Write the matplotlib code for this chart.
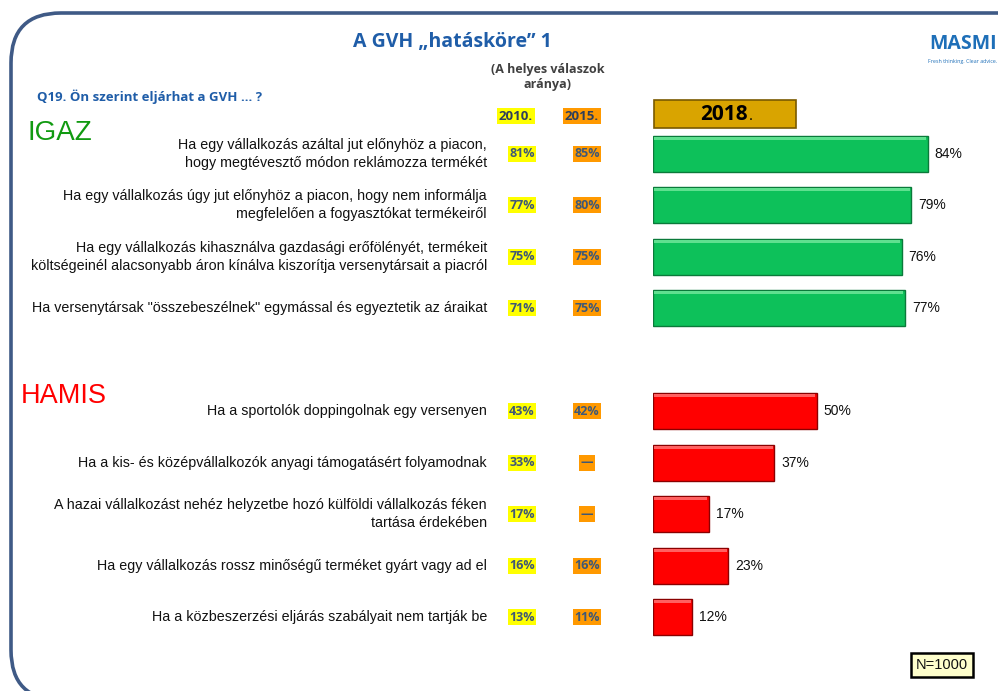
import matplotlib
matplotlib.use("Agg")
import matplotlib.pyplot as plt
from matplotlib.patches import FancyBboxPatch, Rectangle
from matplotlib.transforms import blended_transform_factory

# ---- data ----
labels = [
    "Ha egy vállalkozás azáltal jut előnyhöz a piacon,\nhogy megtévesztő módon reklámozza termékét",
    "Ha egy vállalkozás úgy jut előnyhöz a piacon, hogy nem informálja\nmegfelelően a fogyasztókat termékeiről",
    "Ha egy vállalkozás kihasználva gazdasági erőfölényét, termékeit\nköltségeinél alacsonyabb áron kínálva kiszorítja versenytársait a piacról",
    "Ha versenytársak \"összebeszélnek\" egymással és egyeztetik az áraikat",
    "Ha a sportolók doppingolnak egy versenyen",
    "Ha a kis- és középvállalkozók anyagi támogatásért folyamodnak",
    "A hazai vállalkozást nehéz helyzetbe hozó külföldi vállalkozás féken\ntartása érdekében",
    "Ha egy vállalkozás rossz minőségű terméket gyárt vagy ad el",
    "Ha a közbeszerzési eljárás szabályait nem tartják be",
]
values_2018 = [84, 79, 76, 77, 50, 37, 17, 23, 12]
labels_2010 = ["81%", "77%", "75%", "71%", "43%", "33%", "17%", "16%", "13%"]
labels_2015 = ["85%", "80%", "75%", "75%", "42%", "—", "—", "16%", "11%"]
groups = ["IGAZ"] * 4 + ["HAMIS"] * 5
row_pos = [0, 1, 2, 3, 5, 6, 7, 8, 9]

W, H = 998, 691
fig = plt.figure(figsize=(W / 100, H / 100), dpi=100)

def fx(px):
    return px / W

def fy(py):
    return 1 - py / H

# rounded frame
frame = FancyBboxPatch((fx(11), fy(700)), fx(1100), fy(13) - fy(700),
                       boxstyle="round,pad=0,rounding_size=0.05",
                       transform=fig.transFigure, facecolor="none",
                       edgecolor="#3F5A86", linewidth=2.6, zorder=0,
                       mutation_aspect=W / H)
fig.patches.append(frame)

# bar axes
top_px, bot_px = 128, 643
ax = fig.add_axes([fx(653), fy(bot_px), fx(980) - fx(653), (bot_px - top_px) / H])
ax.set_xlim(0, 100)
ax.set_ylim(9.5, -0.5)
ax.axis("off")
ax.set_zorder(2)

colors = ["#0DC15A" if g == "IGAZ" else "#FF0000" for g in groups]
edges = ["#0A7A3A" if g == "IGAZ" else "#8A0000" for g in groups]
highlights = ["#5FE08F" if g == "IGAZ" else "#FF6060" for g in groups]
ax.barh(row_pos, values_2018, height=0.7, color=colors, edgecolor=edges,
        linewidth=1.0, zorder=2)
# thin bevel highlight along the top of each bar
ax.barh([p - 0.3 for p in row_pos], [v - 0.8 for v in values_2018], left=0.4,
        height=0.06, color=highlights, edgecolor="none", zorder=3)
for y, v in zip(row_pos, values_2018):
    ax.text(v + 2.2, y, f"{v}%", va="center", ha="left", fontsize=10,
            family="Liberation Sans", color="#111111")

tr = blended_transform_factory(fig.transFigure, ax.transData)
for y, lab, a, b in zip(row_pos, labels, labels_2010, labels_2015):
    ax.text(fx(487), y, lab, transform=tr, ha="right", va="center",
            fontsize=10.3, family="Liberation Sans", color="#111111",
            linespacing=1.35, clip_on=False)
    ax.text(fx(522), y, a, transform=tr, ha="center", va="center",
            fontsize=9, fontweight="bold", family="Open Sans",
            color="#3E5877", clip_on=False,
            bbox=dict(boxstyle="square,pad=0.12", facecolor="#FFFF00",
                      edgecolor="none"))
    ax.text(fx(587), y, b, transform=tr, ha="center", va="center",
            fontsize=9, fontweight="bold", family="Open Sans",
            color="#3E5877", clip_on=False,
            bbox=dict(boxstyle="square,pad=0.12", facecolor="#FF9900",
                      edgecolor="none"))

# headers
fig.text(fx(516), fy(116), "2010.", ha="center", va="center", fontsize=9.5,
         fontweight="bold", family="Open Sans", color="#2F3F5A",
         bbox=dict(boxstyle="square,pad=0.12", facecolor="#FFFF00", edgecolor="none"))
fig.text(fx(582), fy(116), "2015.", ha="center", va="center", fontsize=9.5,
         fontweight="bold", family="Open Sans", color="#2F3F5A",
         bbox=dict(boxstyle="square,pad=0.12", facecolor="#FF9900", edgecolor="none"))

box2018 = Rectangle((fx(654), fy(128)), fx(796) - fx(654), fy(100) - fy(128),
                    transform=fig.transFigure, facecolor="#D9A400",
                    edgecolor="#7A5A00", linewidth=1.2, zorder=1)
fig.patches.append(box2018)
fig.text(fx(724), fy(115), "2018", ha="center", va="center", fontsize=15,
         fontweight="bold", family="Open Sans", color="black", zorder=3)
fig.text(fx(749), fy(117), ".", ha="left", va="center", fontsize=11,
         family="Open Sans", color="black", zorder=3)

# titles
fig.text(fx(452), fy(42), "A GVH „hatásköre” 1", ha="center", va="center",
         fontsize=14, fontweight="bold", family="Open Sans", color="#1F5DA8")
fig.text(fx(548), fy(77), "(A helyes válaszok\naránya)", ha="center",
         va="center", fontsize=9, fontweight="bold", family="Open Sans",
         color="#404040", linespacing=1.2)
fig.text(fx(37), fy(97), "Q19. Ön szerint eljárhat a GVH … ?", ha="left",
         va="center", fontsize=9.5, fontweight="bold", family="Open Sans",
         color="#1F5DA8")
fig.text(fx(28), fy(133), "IGAZ", ha="left", va="center", fontsize=20,
         family="Liberation Sans", color="#119A11")
fig.text(fx(21), fy(396), "HAMIS", ha="left", va="center", fontsize=19.5,
         family="Liberation Sans", color="#FF0000")

# logo
fig.text(fx(963), fy(44), "MASMI", ha="center", va="center", fontsize=14,
         fontweight="bold", family="Open Sans", color="#1E6FB8")
fig.text(fx(963), fy(61), "Fresh thinking. Clear advice.", ha="center",
         va="center", fontsize=3.8, family="Open Sans", color="#1E6FB8")

# N box
fig.text(fx(942), fy(665), "N=1000", ha="center", va="center", fontsize=10.5,
         family="Liberation Sans", color="#111111",
         bbox=dict(boxstyle="square,pad=0.35", facecolor="#FFFFCC",
                   edgecolor="black", linewidth=1.8))

fig.savefig("out.png", dpi=100)
